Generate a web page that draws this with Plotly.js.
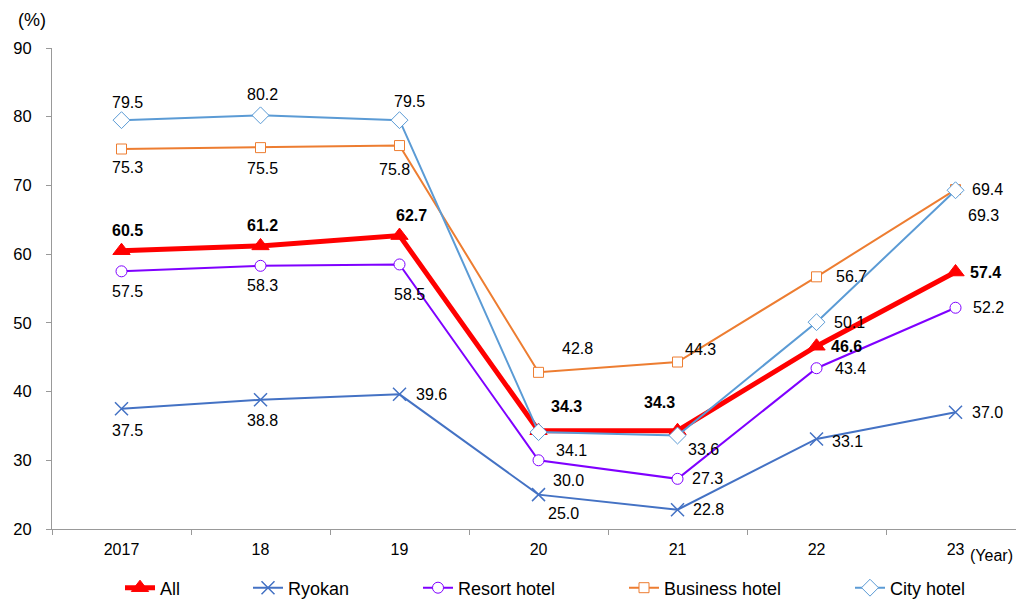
<!DOCTYPE html>
<html>
<head>
<meta charset="utf-8">
<script src="https://cdn.plot.ly/plotly-3.0.1.min.js"></script>
<style>html,body{margin:0;padding:0;background:#fff}</style>
</head>
<body>
<div id="chart" style="width:1016px;height:600px"></div>
<script>
// Occupancy rate by accommodation type (%)
const years = ['2017', '18', '19', '20', '21', '22', '23'];
const allTypes = [60.5, 61.2, 62.7, 34.3, 34.3, 46.6, 57.4];
const ryokan = [37.5, 38.8, 39.6, 25.0, 22.8, 33.1, 37.0];
const resortHotel = [57.5, 58.3, 58.5, 30.0, 27.3, 43.4, 52.2];
const businessHotel = [75.3, 75.5, 75.8, 42.8, 44.3, 56.7, 69.4];
const cityHotel = [79.5, 80.2, 79.5, 34.1, 33.6, 50.1, 69.3];

// Label offsets in pixels [dx, dy] for each point
const allOffsets = [[6, 20], [2, 20], [12, 20], [28, 24], [-18, 28], [30, 0], [30, 0]];
const ryokanOffsets = [[6, -22], [2, -21], [32, 0], [25, -19], [31, 0], [31, -3], [32, 0]];
const resortOffsets = [[6, -20], [2, -20], [10, -30], [30, -20], [30, 0], [34, 0], [33, 0]];
const businessOffsets = [[6, -18], [2, -21], [-5, -24], [39, 24], [23, 13], [35, 0], [32, 0]];
const cityOffsets = [[6, 18], [2, 21], [10, 19], [33, -18], [26, -14], [33, 0], [28, -25]];

const FONT = 'Liberation Sans, Arial, sans-serif';

const series = [
  {name: 'All', values: allTypes, offsets: allOffsets, color: '#FF0000', width: 5,
   symbol: 'triangle-up', size: 15, fill: '#FF0000', bold: true, legendX: 160},
  {name: 'Ryokan', values: ryokan, offsets: ryokanOffsets, color: '#4472C4', width: 2,
   symbol: 'x-thin-open', size: 13, fill: '#4472C4', bold: false, legendX: 288},
  {name: 'Resort hotel', values: resortHotel, offsets: resortOffsets, color: '#7F00FF', width: 2,
   symbol: 'circle', size: 11, fill: '#FFFFFF', bold: false, legendX: 458},
  {name: 'Business hotel', values: businessHotel, offsets: businessOffsets, color: '#ED7D31', width: 2,
   symbol: 'square', size: 10, fill: '#FFFFFF', bold: false, legendX: 664},
  {name: 'City hotel', values: cityHotel, offsets: cityOffsets, color: '#5B9BD5', width: 2,
   symbol: 'diamond', size: 13, fill: '#FFFFFF', bold: false, legendX: 890}
];

const traces = [];
const annotations = [];
const layout = {
  width: 1016,
  height: 600,
  margin: {l: 52, r: 0, t: 48, b: 71},
  paper_bgcolor: '#FFFFFF',
  plot_bgcolor: '#FFFFFF',
  font: {family: FONT, size: 16, color: '#000000'},
  xaxis: {
    type: 'category',
    categoryorder: 'array',
    categoryarray: years,
    range: [-0.5, 6.435],
    showline: true,
    linecolor: '#999999',
    linewidth: 1,
    showgrid: false,
    zeroline: false,
    ticks: 'outside',
    tickson: 'boundaries',
    ticklen: 5,
    tickcolor: '#999999',
    ticklabelstandoff: 6,
    tickfont: {family: FONT, size: 16, color: '#000000'}
  },
  yaxis: {
    range: [20, 90],
    tickvals: [20, 30, 40, 50, 60, 70, 80, 90],
    showline: true,
    linecolor: '#999999',
    linewidth: 1,
    showgrid: false,
    zeroline: false,
    ticks: 'outside',
    ticklen: 5,
    tickcolor: '#999999',
    ticklabelstandoff: 11,
    tickfont: {family: FONT, size: 16.5, color: '#000000'}
  },
  showlegend: true,
  annotations: annotations
};

series.forEach(function (s, k) {
  const legendId = k === 0 ? 'legend' : 'legend' + (k + 1);
  traces.push({
    type: 'scatter',
    mode: 'lines+markers',
    name: s.name,
    x: years,
    y: s.values,
    legend: legendId,
    line: {color: s.color, width: s.width},
    marker: {
      symbol: s.symbol,
      size: s.size,
      color: s.fill,
      line: {color: s.color, width: s.symbol === 'x-thin-open' ? 1.5 : 1}
    },
    hoverinfo: 'x+y'
  });
  layout[legendId] = {
    orientation: 'h',
    xref: 'container',
    yref: 'container',
    x: (s.legendX - 40) / 1016,
    y: 12 / 600,
    xanchor: 'left',
    yanchor: 'middle',
    bgcolor: 'rgba(0,0,0,0)',
    font: {family: FONT, size: 18, color: '#000000'}
  };
  // Value labels, positioned on the category index of each point
  s.values.forEach(function (v, i) {
    annotations.push({
      x: i,
      y: v,
      xref: 'x',
      yref: 'y',
      text: s.bold ? '<b>' + v.toFixed(1) + '</b>' : v.toFixed(1),
      showarrow: false,
      xshift: s.offsets[i][0],
      yshift: s.offsets[i][1],
      font: {family: FONT, size: 16, color: '#000000'}
    });
  });
});

annotations.push({
  xref: 'paper', yref: 'paper', x: 0, y: 1,
  xshift: -36, yshift: 28,
  text: '(%)', showarrow: false, xanchor: 'left', yanchor: 'middle',
  font: {family: FONT, size: 18, color: '#000000'}
});
annotations.push({
  xref: 'paper', yref: 'paper', x: 1, y: 0,
  xshift: -48, yshift: -26,
  text: '(Year)', showarrow: false, xanchor: 'left', yanchor: 'middle',
  font: {family: FONT, size: 16, color: '#000000'}
});

Plotly.newPlot('chart', traces, layout, {displayModeBar: false, staticPlot: true});
</script>
</body>
</html>
